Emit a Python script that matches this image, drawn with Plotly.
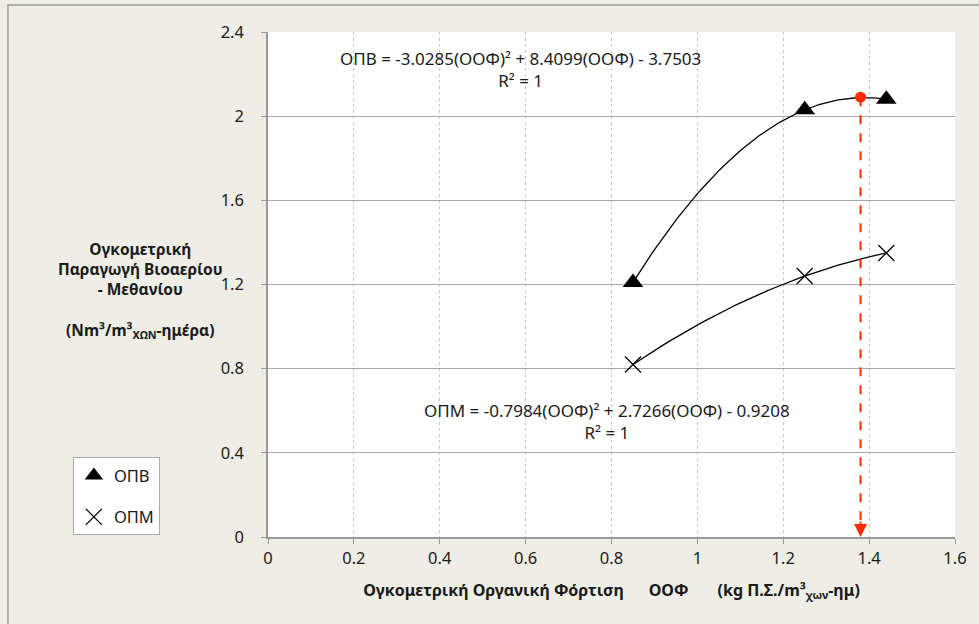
import numpy as np
import plotly.graph_objects as go

# Data
oof = [0.85, 1.25, 1.44]
opb = [1.21, 2.03, 2.08]
opm = [0.82, 1.24, 1.35]
red_x = [1.38]
red_y = [2.09]
x_ticks = [0, 0.2, 0.4, 0.6, 0.8, 1.0, 1.2, 1.4, 1.6]
x_labels = ["0", "0.2", "0.4", "0.6", "0.8", "1", "1.2", "1.4", "1.6"]
y_ticks = [0, 0.4, 0.8, 1.2, 1.6, 2.0, 2.4]
y_labels = ["0", "0.4", "0.8", "1.2", "1.6", "2", "2.4"]

FONT = "Noto Sans"
TXT = "#1a1a1a"

# Polynomial (order 2) trendlines fitted from the data, like the spreadsheet's trendline
xs = np.linspace(min(oof), max(oof), 80)
c_b = np.polyfit(oof, opb, 2)
c_m = np.polyfit(oof, opm, 2)

fig = go.Figure()
fig.add_trace(go.Scatter(x=xs, y=np.polyval(c_b, xs), mode="lines",
                         line=dict(color="black", width=1.3), showlegend=False, hoverinfo="skip"))
fig.add_trace(go.Scatter(x=xs, y=np.polyval(c_m, xs), mode="lines",
                         line=dict(color="black", width=1.3), showlegend=False, hoverinfo="skip"))
fig.add_trace(go.Scatter(x=oof, y=opb, mode="markers", name="ΟΠΒ", legendgroup="b",
                         marker=dict(symbol="triangle-up", size=18, color="black")))
fig.add_trace(go.Scatter(x=oof, y=opm, mode="markers", name="ΟΠΜ", legendgroup="m",
                         marker=dict(symbol="x-thin-open", size=16, color="black",
                                     line=dict(color="black", width=1.3))))

# red dashed drop line
fig.add_trace(go.Scatter(x=[red_x[0], red_x[0]], y=[red_y[0], 0.07], mode="lines",
                         line=dict(color="#FF2A00", width=2, dash="dash"),
                         showlegend=False, hoverinfo="skip"))
fig.add_trace(go.Scatter(x=red_x, y=red_y, mode="markers",
                         marker=dict(color="#FF2A00", size=11), showlegend=False))
fig.add_annotation(x=red_x[0], y=0, ax=red_x[0], ay=0.08, xref="x", yref="y",
                   axref="x", ayref="y", showarrow=True, arrowhead=2, arrowsize=1.3,
                   arrowwidth=2, arrowcolor="#FF2A00", text="", standoff=0)

fig.add_annotation(x=0.587, y=2.22, xref="x", yref="y", showarrow=False,
                   text="ΟΠΒ = -3.0285(ΟΟΦ)² + 8.4099(ΟΟΦ) - 3.7503<br>R² = 1",
                   font=dict(family=FONT, size=17, color=TXT), align="center")
fig.add_annotation(x=0.79, y=0.55, xref="x", yref="y", showarrow=False,
                   text="ΟΠΜ = -0.7984(ΟΟΦ)² + 2.7266(ΟΟΦ) - 0.9208<br>R² = 1",
                   font=dict(family=FONT, size=17, color=TXT), align="center")

# y-axis title (horizontal, left)
fig.add_annotation(x=-0.186, y=0.49, xref="paper", yref="paper", showarrow=False,
                   text="<b>Ογκομετρική<br>Παραγωγή Βιοαερίου<br>- Μεθανίου<br> <br>"
                        "(Nm³/m³<sub>ΧΩΝ</sub>-ημέρα)</b>",
                   font=dict(family=FONT, size=15.5, color=TXT), align="center",
                   xanchor="center", yanchor="middle")

# outer border
fig.add_shape(type="rect", xref="paper", yref="paper", x0=-0.3785, x1=1.2, y0=-0.3, y1=1.0535,
              line=dict(color="#9a9a9a", width=1.5), fillcolor="rgba(0,0,0,0)", layer="below")

fig.update_layout(
    width=979, height=624,
    margin=dict(l=268, r=24, t=32, b=87),
    paper_bgcolor="#EEEDE6", plot_bgcolor="white",
    font=dict(family=FONT, size=16.5, color=TXT),
    legend=dict(x=-0.284, y=0.158, xanchor="left", yanchor="top",
                bgcolor="white", bordercolor="#aaaaaa", borderwidth=1,
                tracegroupgap=17, itemwidth=30,
                font=dict(family=FONT, size=16.5, color=TXT)),
    xaxis=dict(range=[0, 1.6], tickvals=x_ticks, ticktext=x_labels,
               showgrid=True, gridcolor="#c8c8c8", griddash="dot", gridwidth=1,
               showline=True, linecolor="#999", linewidth=1.5,
               ticks="outside", ticklen=5, tickcolor="#999", zeroline=False,
               tickfont=dict(size=16.5),
               title=dict(text="<b>Ογκομετρική Οργανική Φόρτιση&nbsp;&nbsp;&nbsp;&nbsp;&nbsp;&nbsp;ΟΟΦ&nbsp;&nbsp;&nbsp;&nbsp;&nbsp;&nbsp;&nbsp;(kg Π.Σ./m³<sub>χων</sub>-ημ)</b>",
                          font=dict(family=FONT, size=16, color=TXT), standoff=17)),
    yaxis=dict(range=[0, 2.4], tickvals=y_ticks, ticktext=y_labels,
               showgrid=True, gridcolor="#a8a8a8", gridwidth=1.2,
               showline=True, linecolor="#999", linewidth=1.5,
               tickfont=dict(size=16.5), ticklabelstandoff=14,
               ticks="outside", ticklen=5, tickcolor="#999", zeroline=False),
    showlegend=True,
)

fig.write_html("out.html")
